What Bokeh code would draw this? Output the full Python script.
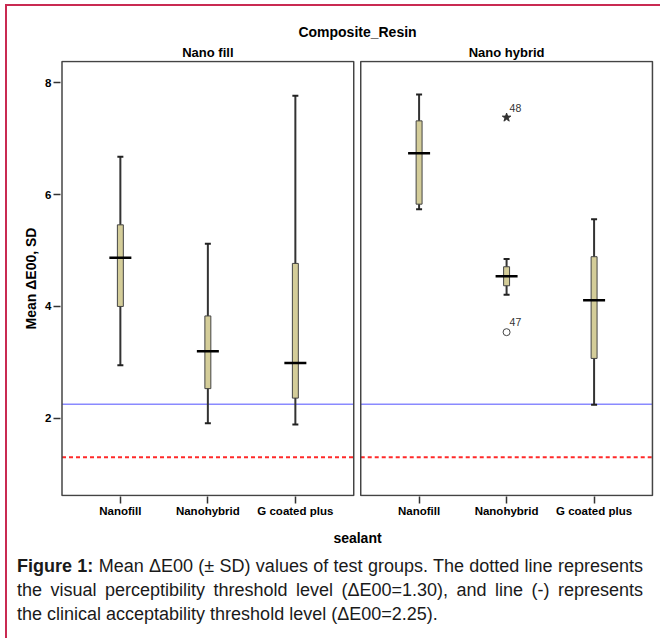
from bokeh.plotting import figure
from bokeh.models import Range1d, LinearAxis, FixedTicker, Div
from bokeh.layouts import column
from bokeh.embed import file_html
from bokeh.resources import INLINE
from bokeh.core.properties import value

# ---------------- data ----------------
title_text = "Composite_Resin"
panels = ["Nano fill", "Nano hybrid"]
sealants = ["Nanofill", "Nanohybrid", "G coated plus"]
y_label = "Mean ΔE00, SD"
x_label = "sealant"

# one row per panel, one value per sealant
whisker_low = [[2.95, 1.91, 1.89], [5.74, 4.21, 2.24]]
box_low = [[4.00, 2.53, 2.36], [5.83, 4.37, 3.07]]
center_val = [[4.87, 3.20, 2.99], [6.74, 4.54, 4.11]]
box_high = [[5.46, 3.83, 4.77], [7.32, 4.71, 4.89]]
whisker_high = [[6.68, 5.12, 7.77], [7.79, 4.85, 5.56]]

outlier_panel = [1, 1]
outlier_sealant = [1, 1]
outlier_value = [7.38, 3.54]
outlier_case = ["48", "47"]
outlier_kind = ["extreme", "outlier"]

clinical_threshold = 2.25
perceptibility_threshold = 1.30

y_ticks = [2, 4, 6, 8]
y_min, y_max = 0.62, 8.38

caption_bold = "Figure 1:"
caption_lines = [
    " Mean ΔE00 (± SD) values of test groups. The dotted line represents",
    "the visual perceptibility threshold level (ΔE00=1.30), and line (-) represents",
    "the clinical acceptability threshold level (ΔE00=2.25).",
]

# ---------------- layout helpers ----------------
FONT = "Liberation Sans"
PAD = 0.667
GAP = 0.08
SPAN = 2 + 2 * PAD
STEP = SPAN + GAP


def xpos(pi, si):
    return round(pi * STEP + si + 1, 3)


panel_left = [round(pi * STEP + 1 - PAD, 3) for pi in range(len(panels))]
panel_right = [round(pi * STEP + 3 + PAD, 3) for pi in range(len(panels))]
panel_center = [round(pi * STEP + 2, 3) for pi in range(len(panels))]

xs, wl, bl, cv, bh, wh = [], [], [], [], [], []
for pi in range(len(panels)):
    for si in range(len(sealants)):
        xs.append(xpos(pi, si))
        wl.append(whisker_low[pi][si])
        bl.append(box_low[pi][si])
        cv.append(center_val[pi][si])
        bh.append(box_high[pi][si])
        wh.append(whisker_high[pi][si])

x_start = panel_left[0] - 1.5 / 87.5
x_end = x_start + 594 / 87.5

p = figure(width=657, height=548,
           x_range=Range1d(x_start, x_end), y_range=Range1d(0.60, 8.40),
           output_backend="svg", toolbar_location=None,
           min_border_left=60, min_border_right=3, min_border_top=60, min_border_bottom=50,
           outline_line_color=None, background_fill_color="white", border_fill_color="white")
p.xgrid.visible = False
p.ygrid.visible = False

# threshold lines
p.segment(x0=panel_left, x1=panel_right, y0=[clinical_threshold] * 2, y1=[clinical_threshold] * 2,
          line_color="#8a8aff", line_width=1.5)
p.segment(x0=panel_left, x1=panel_right, y0=[perceptibility_threshold] * 2, y1=[perceptibility_threshold] * 2,
          line_color="#ff2a2a", line_width=2, line_dash="4 3")

# panel borders
p.quad(left=panel_left, right=panel_right, bottom=[y_min] * 2, top=[y_max] * 2,
       fill_color=None, line_color="#444444", line_width=1.5)

# whiskers
p.segment(x0=xs, x1=xs, y0=wl, y1=wh, line_color="#333333", line_width=2)
p.scatter(x=xs + xs, y=wl + wh, marker="dash", size=6, line_color="#222222", line_width=2)
# boxes
p.vbar(x=xs, bottom=bl, top=bh, width=0.068, fill_color="#d4cd99", line_color="#444444", line_width=1)
# centre line
p.scatter(x=xs, y=cv, marker="dash", size=22, line_color="black", line_width=2.5)

# outliers
ox = [xpos(pi, si) for pi, si in zip(outlier_panel, outlier_sealant)]
ext_x = [x for x, k in zip(ox, outlier_kind) if k == "extreme"]
ext_y = [v for v, k in zip(outlier_value, outlier_kind) if k == "extreme"]
out_x = [x for x, k in zip(ox, outlier_kind) if k == "outlier"]
out_y = [v for v, k in zip(outlier_value, outlier_kind) if k == "outlier"]
p.scatter(x=ext_x, y=ext_y, marker="star", size=9, fill_color="#333333", line_color="#333333")
p.scatter(x=out_x, y=out_y, marker="circle", size=7, fill_color="white", line_color="#444444", line_width=1)
p.text(x=ox, y=outlier_value, text=outlier_case, x_offset=3, y_offset=-10,
       text_font=value(FONT), text_font_size="10.5px", text_baseline="middle", text_align="left",
       text_color="#333333")

# bottom axis
xa = p.xaxis[0]
xa.ticker = FixedTicker(ticks=xs)
xa.major_label_overrides = {x: sealants[i % 3] for i, x in enumerate(xs)}
xa.axis_line_color = None
xa.major_tick_out = 7
xa.major_tick_in = 0
xa.minor_tick_line_color = None
xa.major_tick_line_color = "#333333"
xa.major_tick_line_width = 1.5
xa.major_label_standoff = 1
xa.major_label_text_font = FONT
xa.major_label_text_font_size = "11.5px"
xa.major_label_text_font_style = "bold"
xa.major_label_text_color = "black"
xa.axis_label = x_label
xa.axis_label_text_font = FONT
xa.axis_label_text_font_size = "14px"
xa.axis_label_text_font_style = "bold"
xa.axis_label_text_color = "black"
xa.axis_label_standoff = 10

# left axis
ya = p.yaxis[0]
ya.ticker = FixedTicker(ticks=y_ticks)
ya.axis_line_color = None
ya.major_tick_out = 7
ya.major_tick_in = 0
ya.minor_tick_line_color = None
ya.major_tick_line_color = "#333333"
ya.major_tick_line_width = 1.5
ya.major_label_standoff = 2
ya.major_label_text_font = FONT
ya.major_label_text_font_size = "11.5px"
ya.major_label_text_font_style = "bold"
ya.major_label_text_color = "black"
ya.axis_label = y_label
ya.axis_label_text_font = FONT
ya.axis_label_text_font_size = "14px"
ya.axis_label_text_font_style = "bold"
ya.axis_label_text_color = "black"
ya.axis_label_standoff = 3

# top axis: panel names + overall title
ta = LinearAxis(ticker=FixedTicker(ticks=panel_center),
                major_label_overrides={c: panels[i] for i, c in enumerate(panel_center)})
ta.axis_line_color = None
ta.major_tick_line_color = None
ta.minor_tick_line_color = None
ta.major_tick_out = 0
ta.major_tick_in = 0
ta.major_label_standoff = 1
ta.major_label_text_font = FONT
ta.major_label_text_font_size = "13px"
ta.major_label_text_font_style = "bold"
ta.major_label_text_color = "black"
ta.axis_label = title_text
ta.axis_label_text_font = FONT
ta.axis_label_text_font_size = "14px"
ta.axis_label_text_font_style = "bold"
ta.axis_label_text_color = "black"
ta.axis_label_standoff = 2
p.add_layout(ta, "above")

line_style = "text-align:justify;text-align-last:justify;white-space:nowrap;"
frame_color = "#c92a52"
caption_html = (
    f"<div style='position:fixed;z-index:10;left:5px;top:4px;width:2px;height:700px;background:{frame_color};'></div>"
    f"<div style='position:fixed;z-index:10;left:5px;top:4px;width:700px;height:2px;background:{frame_color};'></div>"
    f"<div style=\"margin-left:12px;margin-top:1px;font-family:'{FONT}',Arial,sans-serif;"
    f"font-size:18px;line-height:24px;color:#1a1a1a;width:626px;\">"
    f"<div style='{line_style}'><b>{caption_bold}</b>{caption_lines[0]}</div>"
    f"<div style='{line_style}'>{caption_lines[1]}</div>"
    f"<div style='text-align:left;white-space:nowrap;'>{caption_lines[2]}</div>"
    "</div>"
)
caption = Div(text=caption_html, width=652, height=84)

layout = column(p, caption)

open("out.html", "w").write(file_html(layout, INLINE))
